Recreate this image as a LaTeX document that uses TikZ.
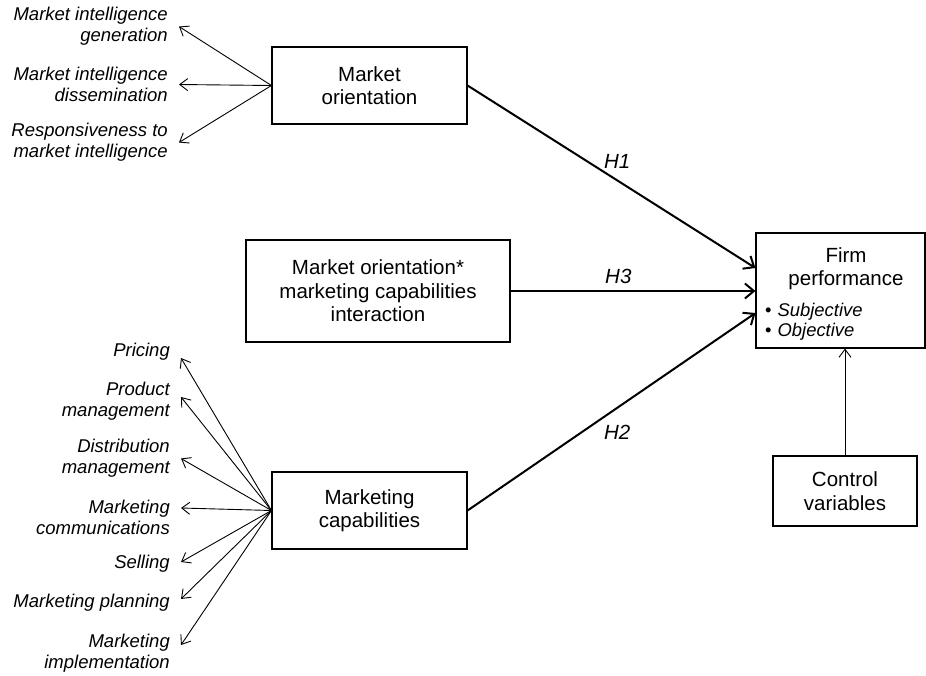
\documentclass[tikz,border=0pt]{standalone}
\usepackage{fontspec}
\setmainfont{Liberation Sans}
\usetikzlibrary{positioning}
\usetikzlibrary{arrows.meta}

\begin{document}
\begin{tikzpicture}[x=1pt, y=-1pt,
    box/.style={draw, line width=1.1pt, align=center, font=\fontsize{20.5}{23.5}\selectfont},
    item/.style={anchor=east, align=right, inner xsep=11pt, inner ysep=0pt, font=\fontsize{18.5}{21}\selectfont\itshape},
    itemarrow/.style={line width=0.9pt, -{Straight Barb[length=8pt,width=12pt]}},
    hyp/.style={line width=2pt, -{Straight Barb[length=9pt,width=15pt]}},
    hlab/.style={font=\fontsize{20.5}{24}\selectfont\itshape}]
            \useasboundingbox (0,0) rectangle (926,675);

            % constructs
            \node[box, minimum width=195pt, minimum height=77pt] (mo) at (369.5,85.5) {Market\\orientation};
            \node[box, minimum width=264pt, minimum height=102pt] (moxmc) at (378,291) {Market orientation*\\marketing capabilities\\interaction};
            \node[box, minimum width=195pt, minimum height=77pt] (mc) at (369.5,510.5) {Marketing\\capabilities};
            \node[box, minimum width=169pt, minimum height=115pt] (firm) at (840.5,290.5) {};
            \node[align=center, font=\fontsize{20.5}{23}\selectfont] (firmtitle) at (846,268.5) {Firm\\performance};
            \node[anchor=west, inner sep=0pt, font=\fontsize{18.4}{20}\selectfont] (subj) at (765,312) {\textbullet\hspace{6pt}\textit{Subjective}};
            \node[anchor=west, inner sep=0pt, font=\fontsize{18.4}{20}\selectfont] (obj) at (765,332) {\textbullet\hspace{6pt}\textit{Objective}};
            \node[box, minimum width=144pt, minimum height=70pt] (ctrl) at (845,491) {Control\\variables};

            % market orientation dimensions
            \node[item] (gen) at (179,26.5) {Market intelligence\\generation};
            \node[item] (diss) at (179,84.5) {Market intelligence\\dissemination};
            \node[item] (resp) at (179,142.5) {Responsiveness to\\market intelligence};

            % marketing capability dimensions
            \node[item] (pricing) at (181,352) {Pricing};
            \node[item] (product) at (181,401) {Product\\management};
            \node[item] (distrib) at (181,458.5) {Distribution\\management};
            \node[item] (comms) at (181,517) {Marketing\\communications};
            \node[item] (selling) at (181,564) {Selling};
            \node[item] (planning) at (181,603) {Marketing planning};
            \node[item] (implem) at (181,653) {Marketing\\implementation};

            \path[itemarrow]
            (mo.west) edge (gen.east)
            (mo.west) edge (diss.east)
            (mo.west) edge (resp.east)
            (mc.west) edge ([yshift=-6pt]pricing.east)
            (mc.west) edge ([yshift=4pt]product.east)
            (mc.west) edge (distrib.east)
            (mc.west) edge ([yshift=9pt]comms.east)
            (mc.west) edge ([yshift=2pt]selling.east)
            (mc.west) edge ([yshift=4pt]planning.east)
            (mc.west) edge ([yshift=8pt]implem.east)
            (ctrl.north) edge (ctrl.north |- firm.south);

            \path[hyp]
            (mo.east) edge node[hlab, pos=0.52, yshift=19pt] {H1} ([yshift=22.5pt]firm.west)
            (moxmc.east) edge node[hlab, pos=0.44, yshift=15pt] {H3} (moxmc.east -| firm.west)
            (mc.east) edge node[hlab, pos=0.52, yshift=-25pt] {H2} ([yshift=-22.5pt]firm.west);
          \end{tikzpicture}
\end{document}
